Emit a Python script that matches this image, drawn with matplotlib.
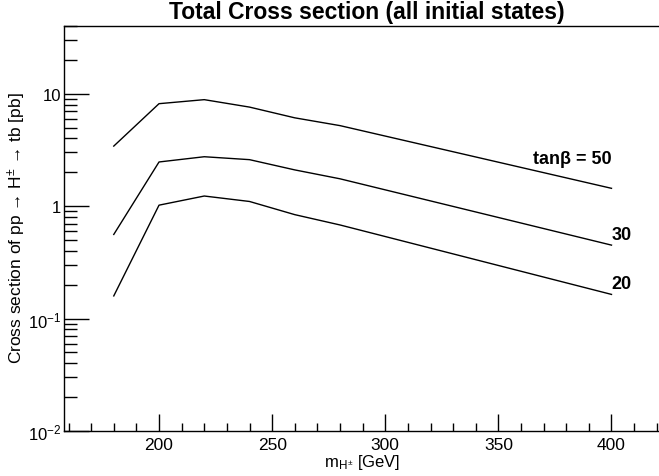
import numpy as np
import matplotlib
matplotlib.use("Agg")
import matplotlib.pyplot as plt
from matplotlib.ticker import FixedLocator, FuncFormatter, MultipleLocator

plt.rcParams['font.family'] = ['Liberation Sans', 'DejaVu Sans']
plt.rcParams['mathtext.fontset'] = 'custom'
plt.rcParams['mathtext.rm'] = 'Liberation Sans'
plt.rcParams['mathtext.it'] = 'Liberation Sans'
plt.rcParams['mathtext.bf'] = 'Liberation Sans:bold'

# charged Higgs mass [GeV]
mass = [180, 200, 220, 240, 260, 280, 400]
# cross sections [pb] for each tan(beta)
xs_tb50 = [3.42, 8.15, 8.85, 7.6, 6.1, 5.2, 1.44]
xs_tb30 = [0.56, 2.47, 2.75, 2.59, 2.1, 1.75, 0.45]
xs_tb20 = [0.159, 1.02, 1.23, 1.10, 0.84, 0.68, 0.164]
labels = ["tan\u03b2 = 50", "30", "20"]

fig = plt.figure(figsize=(6.59, 4.77), dpi=100)
ax = fig.add_axes([64/659, 1-432/477, 1-64/659, (432-27)/477])

for ys in (xs_tb50, xs_tb30, xs_tb20):
    ax.plot(mass, ys, color='black', lw=1.0)

ax.set_yscale('log')
ax.set_xlim(158, 421)
ax.set_ylim(0.01, 40)

ax.xaxis.set_major_locator(MultipleLocator(50))
ax.xaxis.set_minor_locator(MultipleLocator(10))
ax.yaxis.set_major_locator(FixedLocator([0.01, 0.1, 1, 10]))
minors = [m * d for d in (0.01, 0.1, 1, 10) for m in range(2, 10)]
ax.yaxis.set_minor_locator(FixedLocator(minors))

def ylab(v, pos):
    e = int(round(np.log10(v)))
    if e == 0:
        return "1"
    if e == 1:
        return "10"
    return "$10^{%d}$" % e

ax.yaxis.set_major_formatter(FuncFormatter(ylab))
ax.yaxis.set_minor_formatter(FuncFormatter(lambda v, p: ""))

ax.tick_params(axis='both', which='both', direction='in', labelsize=12.5,
               top=False, right=False)
ax.tick_params(axis='x', which='major', length=12, width=1, pad=4)
ax.tick_params(axis='x', which='minor', length=6, width=1)
ax.tick_params(axis='y', which='major', length=18, width=1, pad=2, labelsize=12)
ax.tick_params(axis='y', which='minor', length=9, width=1)

ax.spines['right'].set_visible(False)
for s in ('left', 'bottom', 'top'):
    ax.spines[s].set_linewidth(1.0)

fig.text(367/659, 1-13/477, "Total Cross section (all initial states)",
         ha='center', va='center', fontsize=16.5, fontweight='bold')
fig.text(17/659, 1-228/477,
         "Cross section of pp \u2192 H$^{\u00b1}$ \u2192 tb [pb]",
         rotation=90, ha='center', va='center', fontsize=12.5)
fig.text(362/659, 1-463/477, "m$_{H^{\u00b1}}$ [GeV]", ha='center', va='center',
         fontsize=12)

ax.text(400, xs_tb50[-1] * 1.55, labels[0], ha='right', va='bottom',
        fontsize=13, fontweight='bold')
ax.text(400, xs_tb30[-1] * 1.05, labels[1], ha='left', va='bottom',
        fontsize=13, fontweight='bold')
ax.text(400, xs_tb20[-1] * 1.05, labels[2], ha='left', va='bottom',
        fontsize=13, fontweight='bold')

fig.savefig("out.png", dpi=100)
